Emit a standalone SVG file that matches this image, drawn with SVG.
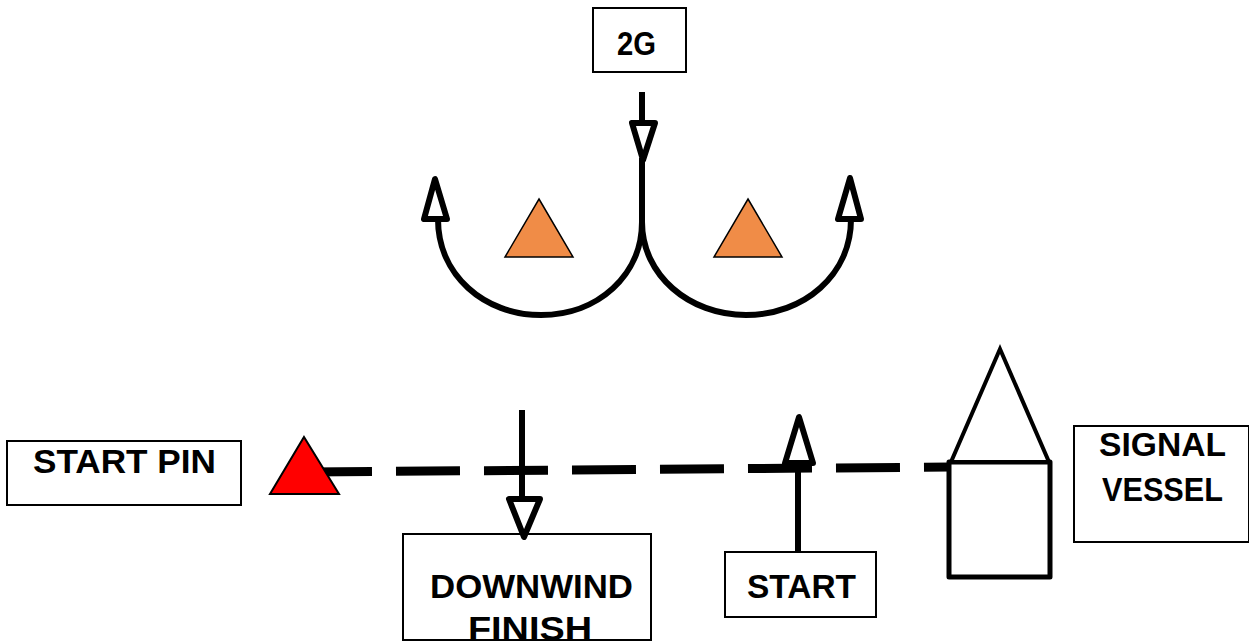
<svg xmlns="http://www.w3.org/2000/svg" width="1249" height="643" viewBox="0 0 1249 643">
<style>
.box{fill:#fff;stroke:#000;stroke-width:2}
.lbl{font-family:"Liberation Sans",Arial,sans-serif;font-weight:700;font-size:33px;fill:#000}
.conn{fill:none;stroke:#000;stroke-width:6;stroke-linecap:butt}
.head{fill:#fff;stroke:#000;stroke-width:6;stroke-linejoin:round}
.buoy{fill:#F08C47;stroke:#000;stroke-width:1.5;stroke-linejoin:miter}
</style>
<rect width="1249" height="643" fill="#fff"/>
<g id="connectors">
<path class="conn" d="M308 472 L950 467" style="stroke-width:9;stroke-dasharray:64 24"/>
<path class="conn" d="M642 92V124"/>
<polygon class="head" points="632,123 655,123 643,160"/>
<path class="conn" d="M642 158V224"/>
<path class="conn" d="M642 222C642 275 598 315 541 315C484 315 438 275 438 219"/>
<polygon class="head" points="424,219 447,219 435,179"/>
<path class="conn" d="M642 222C642 275 689 315 746 315C804 315 851 275 851 219"/>
<polygon class="head" points="838,219 861,219 850,178"/>
<path class="conn" d="M522 410V499"/>
<path class="conn" d="M798 551V465"/>
</g>
<g id="node-2g">
<rect class="box" x="593" y="8" width="93" height="64"/>
<text class="lbl" x="617" y="55" textLength="39" lengthAdjust="spacingAndGlyphs">2G</text>
</g>
<g id="buoy-left"><polygon class="buoy" points="539,199 573,257 505,257"/></g>
<g id="buoy-right"><polygon class="buoy" points="748,199 782,257 714,257"/></g>
<g id="node-start-pin">
<rect class="box" x="7" y="441" width="234" height="64"/>
<text class="lbl" x="33" y="473" textLength="183" lengthAdjust="spacingAndGlyphs">START PIN</text>
</g>
<g id="pin"><polygon points="304,437 339,494 270,494" fill="#f00" stroke="#000" stroke-width="2"/></g>
<g id="node-downwind-finish">
<rect class="box" x="403" y="534" width="248" height="106"/>
<text class="lbl" x="430" y="598" textLength="203" lengthAdjust="spacingAndGlyphs">DOWNWIND</text>
<text class="lbl" x="468" y="640" textLength="124" lengthAdjust="spacingAndGlyphs">FINISH</text>
</g>
<g id="arrowhead-finish"><polygon class="head" points="509,499 540,499 524,537"/></g>
<g id="node-start">
<rect class="box" x="725" y="552" width="151" height="65"/>
<text class="lbl" x="747" y="598" textLength="109" lengthAdjust="spacingAndGlyphs">START</text>
</g>
<g id="arrowhead-start"><polygon class="head" points="785,463 813,463 799,417"/></g>
<g id="signal-vessel-shape">
<rect x="949" y="462" width="101" height="115" fill="#fff" stroke="#000" stroke-width="5" stroke-linejoin="round"/>
<polygon points="1000,349 1049,462 951,462" fill="#fff" stroke="#000" stroke-width="4"/>
</g>
<g id="node-signal-vessel">
<rect class="box" x="1074" y="426" width="175" height="116"/>
<text class="lbl" x="1099" y="456" textLength="127" lengthAdjust="spacingAndGlyphs">SIGNAL</text>
<text class="lbl" x="1102" y="501" textLength="121" lengthAdjust="spacingAndGlyphs">VESSEL</text>
</g>
</svg>
